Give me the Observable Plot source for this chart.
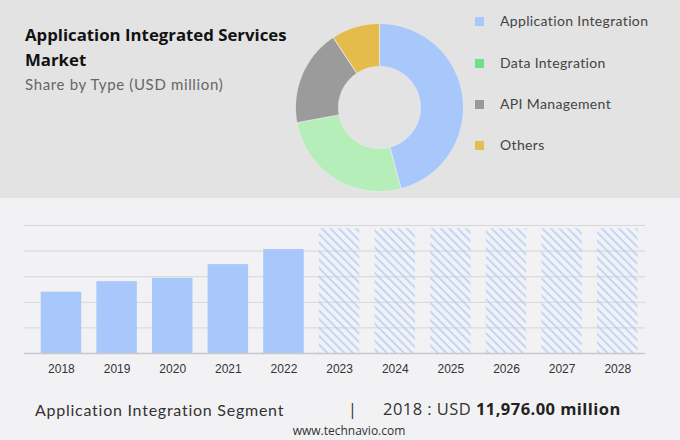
<!DOCTYPE html>
<html>
<head>
<meta charset="utf-8">
<script src="https://cdn.jsdelivr.net/npm/d3@7"></script>
<script src="https://cdn.jsdelivr.net/npm/@observablehq/plot@0.6"></script>
<style>
  html, body { margin: 0; padding: 0; }
  body { width: 680px; height: 440px; position: relative; overflow: hidden; background: #f2f2f4; }
  #top { position: absolute; left: 0; top: 0; width: 680px; height: 198px; background: #e3e3e3; }
  .abs { position: absolute; white-space: nowrap; }
  #title { left: 25px; top: 23px; font: 700 16.8px "Open Sans", sans-serif; line-height: 24.5px; color: #111; }
  #subtitle { left: 25px; top: 75px; font: 400 15px Lato, sans-serif; letter-spacing: 0.65px; color: #666; }
  .leg { position: absolute; left: 475px; font: 400 14px Lato, sans-serif; letter-spacing: 0.35px; color: #444; white-space: nowrap; }
  .leg span.sw { position: absolute; left: 0; width: 9px; height: 9px; }
  .leg span.tx { position: absolute; left: 25px; top: -9px; line-height: 18px; white-space: nowrap; }
  #donut { position: absolute; left: 289px; top: 17px; }
  #bars { position: absolute; left: 0; top: 205px; }
  #foot1 { left: 35px; top: 400px; font: 400 16px Lato, sans-serif; letter-spacing: 0.75px; color: #333; }
  #foot2 { left: 348px; top: 398px; font: 400 16px "Open Sans", sans-serif; color: #333; }
  #foot3 { left: 383px; top: 397px; font: 400 16.5px "Open Sans", sans-serif; letter-spacing: 0.45px; color: #333; }
  #foot3 b { font-weight: 700; color: #222; }
  #site { left: 0; width: 698px; text-align: center; top: 422px; font: 400 12px "Open Sans", sans-serif; color: #333; }
</style>
</head>
<body>
<svg width="0" height="0" style="position:absolute">
  <defs>
    <pattern id="hatch" patternUnits="userSpaceOnUse" width="6" height="6" patternTransform="rotate(-45)">
      <line x1="1" y1="0" x2="1" y2="6" stroke="#a8c8fc" stroke-width="1.3"></line>
    </pattern>
  </defs>
</svg>
<div id="top"></div>
<div id="title" class="abs">Application Integrated Services<br>Market</div>
<div id="subtitle" class="abs">Share by Type (USD million)</div>
<div id="legend"></div>
<div id="donut"></div>
<div id="bars"></div>
<div id="foot1" class="abs">Application Integration Segment</div>
<div id="foot2" class="abs">|</div>
<div id="foot3" class="abs">2018 : USD <b>11,976.00 million</b></div>
<div id="site" class="abs">www.technavio.com</div>
<script>
// ---- Data ----
const segments = ["Application Integration", "Data Integration", "API Management", "Others"];
const shares = [45.9, 26.2, 18.6, 9.3];
const sliceColors = ["#a8c8fc", "#b5eeb9", "#9b9b9b", "#e5bb4c"];
const legendColors = ["#a8c8fc", "#6ee08a", "#999999", "#e0c050"];

const years = ["2018", "2019", "2020", "2021", "2022", "2023", "2024", "2025", "2026", "2027", "2028"];
const historical = [11976, 14040, 14690, 17370, 20300, null, null, null, null, null, null];
const forecast = [null, null, null, null, null, 24350, 24350, 24350, 24350, 24350, 24350];
const yTicks = [0, 5000, 10000, 15000, 20000, 25000];

// ---- Legend ----
const legendTops = [21, 63, 104, 145];
const legend = document.getElementById("legend");
segments.forEach((s, i) => {
  const d = document.createElement("div");
  d.className = "leg";
  d.style.top = legendTops[i] + "px";
  d.innerHTML = `<span class="sw" style="top:-4.5px;background:${legendColors[i]}"></span><span class="tx">${s}</span>`;
  legend.appendChild(d);
});

// ---- Donut ----
const pie = d3.pie().sort(null).value(d => d.share)(segments.map((s, i) => ({segment: s, share: shares[i]})));
const R = 1, r = 0.488;
const pts = [];
pie.forEach(p => {
  const n = Math.max(8, Math.ceil((p.endAngle - p.startAngle) / 0.02));
  const outer = d3.range(n + 1).map(k => p.startAngle + (p.endAngle - p.startAngle) * k / n);
  outer.forEach(a => pts.push({segment: p.data.segment, x: R * Math.sin(a), y: R * Math.cos(a)}));
  outer.slice().reverse().forEach(a => pts.push({segment: p.data.segment, x: r * Math.sin(a), y: r * Math.cos(a)}));
  pts.push({segment: p.data.segment, x: R * Math.sin(p.startAngle), y: R * Math.cos(p.startAngle)});
});
const donut = Plot.plot({
  width: 180, height: 180, margin: 0,
  style: {background: "transparent", overflow: "visible"},
  x: {domain: [-1.0714, 1.0714], axis: null},
  y: {domain: [-1.0714, 1.0714], axis: null},
  color: {domain: segments, range: sliceColors},
  marks: [
    Plot.line(pts, {x: "x", y: "y", z: "segment", fill: "segment", stroke: "#e8e8e8", strokeWidth: 0.8, curve: "linear"})
  ]
});
document.getElementById("donut").appendChild(donut);

// ---- Bars ----
const rows = years.map((y, i) => ({year: y, hist: historical[i], fc: forecast[i]}));
const bars = Plot.plot({
  width: 680, height: 180,
  marginLeft: 24, marginRight: 35, marginTop: 20, marginBottom: 32,
  style: {background: "transparent", fontFamily: "'Liberation Sans', Arial, sans-serif", fontSize: "12px", color: "#333"},
  x: {domain: years, paddingInner: 0.272, paddingOuter: 0.2175, align: 0.69, round: false, label: null},
  y: {domain: [0, 25000], ticks: yTicks, axis: null},
  marks: [
    Plot.gridY(yTicks, {stroke: "#d6d6d6", strokeOpacity: 1, strokeWidth: 1}),
    Plot.barY(rows.filter(d => d.hist != null), {x: "year", y: "hist", fill: "#a8c8fc"}),
    Plot.barY(rows.filter(d => d.fc != null), {x: "year", y: "fc", fill: "url(#hatch)"}),
    Plot.ruleY([0], {stroke: "#c8c8c8", strokeWidth: 1.5}),
    Plot.axisX({tickSize: 0, tickPadding: 11, fontSize: 12, fill: "#333", label: null})
  ]
});
document.getElementById("bars").appendChild(bars);
</script>
</body>
</html>
